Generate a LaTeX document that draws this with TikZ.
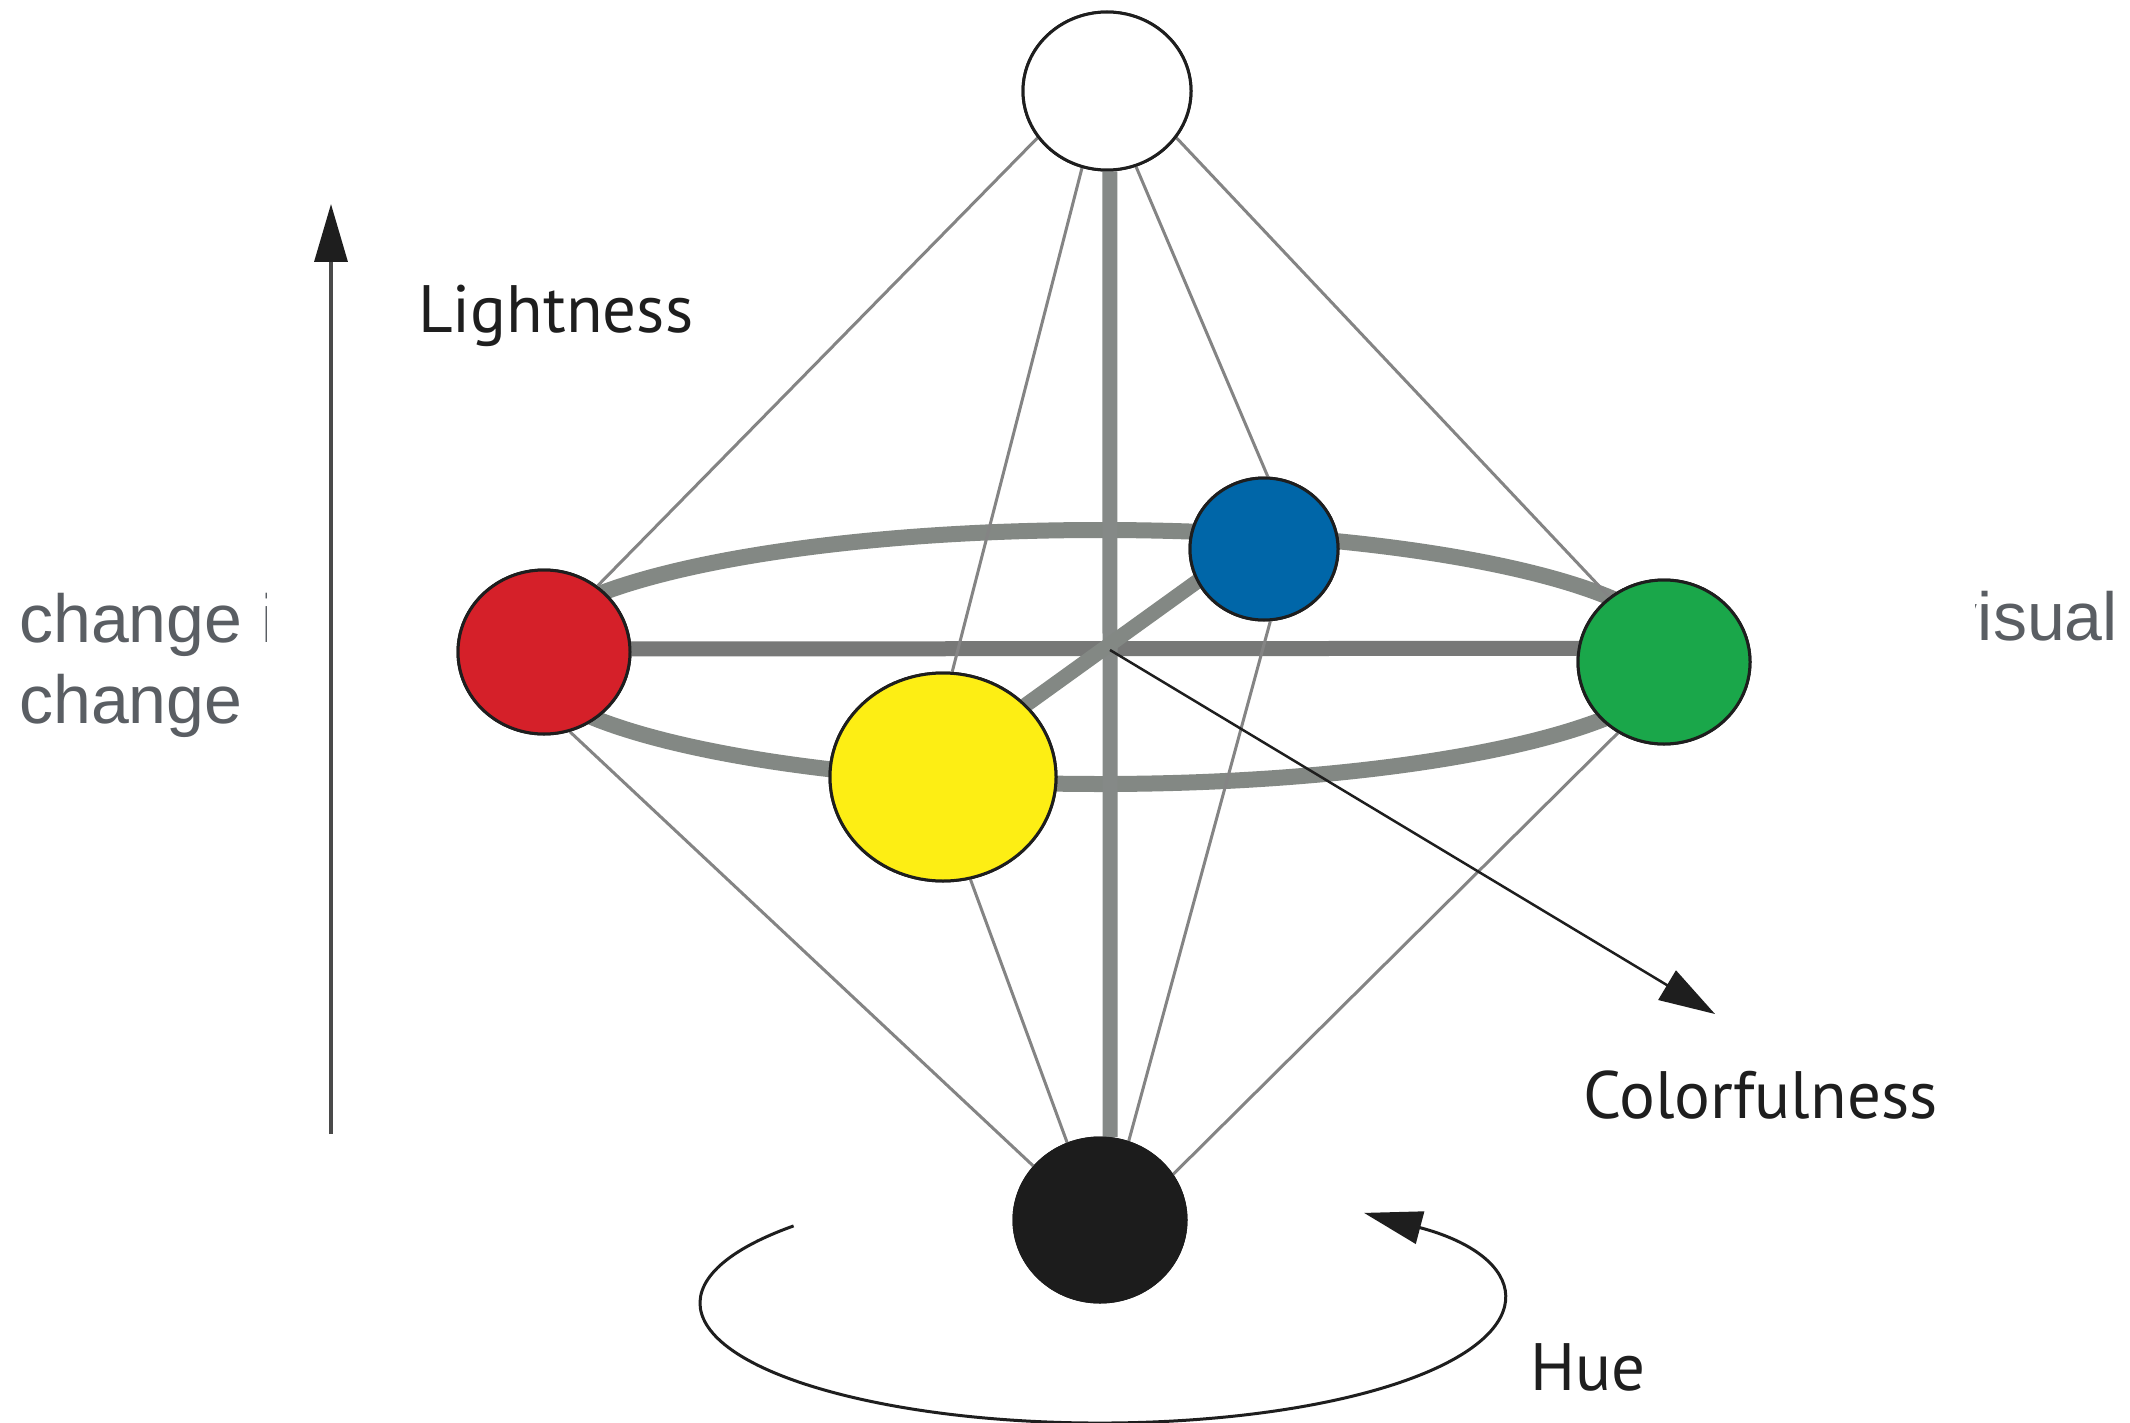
\documentclass[tikz,border=0pt]{standalone}
\usepackage{fontspec}
\setmainfont{PT Sans}
\newfontfamily\slidefont{Liberation Sans}
\usetikzlibrary{shapes.geometric,arrows.meta}

\definecolor{ringgray}{HTML}{838884}
\definecolor{bargray}{HTML}{858987}
\definecolor{hbargray}{HTML}{777877}
\definecolor{spokegray}{HTML}{848484}
\definecolor{inkdark}{HTML}{1E1E1E}
\definecolor{axisgray}{HTML}{4A4A4A}
\definecolor{slidegray}{HTML}{5A5E63}
\definecolor{cred}{HTML}{D52029}
\definecolor{cyellow}{HTML}{FDEE14}
\definecolor{cblue}{HTML}{0066A8}
\definecolor{cgreen}{HTML}{1AA74A}
\definecolor{cblack}{HTML}{1C1C1C}

\tikzset{
  colorball/.style={ellipse, draw=inkdark, line width=3pt, inner sep=0pt},
  bar/.style={line width=15pt, draw=bargray},
  spoke/.style={line width=3pt, draw=spokegray},
  label/.style={inner sep=0pt, text=inkdark, font=\fontsize{67}{80}\selectfont},
  slidetext/.style={inner sep=0pt, text=slidegray, font=\slidefont\fontsize{68}{81}\selectfont},
  bigtip/.style={-{Triangle[length=58pt,width=33pt,color=inkdark,fill=inkdark]}},
}

\begin{document}
\begin{tikzpicture}[x=1pt,y=1pt]
\useasboundingbox (0,0) rectangle (2130,-1423);
\fill[white] (0,0) rectangle (2130,-1423);

% slide text lying behind the figure panel
\node[slidetext, anchor=base west] (left1) at (19,-642) {change i};
\node[slidetext, anchor=base west] (left2) at (19,-723) {change};
\node[slidetext, anchor=base east] (right1) at (2118,-640) {visual};

% white figure panel
\fill[white] (267,0) rectangle (1975,-1423);

% hue ring
\node[ellipse, draw=ringgray, line width=16pt, minimum width=1154pt,
      minimum height=254pt, inner sep=0pt] (ring) at (1100,-657) {};

% colour points (placed first so that the axes can refer to them)
\path
  (1107,-91)  node[colorball, fill=white,   minimum width=168pt, minimum height=158pt] (white) {}
  (544,-652)  node[colorball, fill=cred,    minimum width=172pt, minimum height=164pt] (red) {}
  (943,-777)  node[colorball, fill=cyellow, minimum width=226pt, minimum height=208pt] (yellow) {}
  (1264,-549) node[colorball, fill=cblue,   minimum width=148pt, minimum height=142pt] (blue) {}
  (1664,-662) node[colorball, fill=cgreen,  minimum width=172pt, minimum height=164pt] (green) {}
  (1100,-1220) node[colorball, fill=cblack, draw=cblack, minimum width=172pt, minimum height=164pt] (black) {};

\coordinate (hub) at (1110,-650);

% axes of the solid
\draw[bar, draw=hbargray, shorten <=-8pt, shorten >=-8pt] (red.2) -- (green.171);
\draw[bar] (white.272) -- (black.83);
\draw[bar, draw=ringgray, shorten <=-8pt, shorten >=-8pt] (yellow.41) -- (blue.206);

% spokes to white and black
\draw[spoke] (white.214) -- (red.51);
\draw[spoke] (white.252) -- (yellow.85);
\draw[spoke] (white.291) -- (blue.87);
\draw[spoke] (white.326) -- (green.130);
\draw[spoke] (black.141) -- (red.288);
\draw[spoke] (black.113) -- (yellow.285);
\draw[spoke] (black.70) -- (blue.275);
\draw[spoke] (black.32) -- (green.237);

% balls drawn again above the axes and spokes
\path
  (1107,-91)  node[colorball, fill=white,   minimum width=168pt, minimum height=158pt] {}
  (544,-652)  node[colorball, fill=cred,    minimum width=172pt, minimum height=164pt] {}
  (943,-777)  node[colorball, fill=cyellow, minimum width=226pt, minimum height=208pt] {}
  (1264,-549) node[colorball, fill=cblue,   minimum width=148pt, minimum height=142pt] {}
  (1664,-662) node[colorball, fill=cgreen,  minimum width=172pt, minimum height=164pt] {}
  (1100,-1220) node[colorball, fill=cblack, draw=cblack, minimum width=172pt, minimum height=164pt] {};

% lightness axis
\coordinate (lbot) at (331,-1134);
\coordinate (ltop) at (331,-204);
\draw[bigtip, line width=3.5pt, draw=axisgray] (lbot) -- (ltop);

% colourfulness direction
\coordinate (ctip) at (1715,-1014);
\draw[-{Triangle[length=56pt,width=34pt,fill=inkdark]}, line width=2.5pt, draw=inkdark] (hub) -- (ctip);

% hue rotation
\coordinate (hstart) at (793.6,-1225.9);
\draw[bigtip, line width=3pt, draw=inkdark]
  (hstart) arc[start angle=140, end angle=408.7, x radius=400, y radius=120];

% labels
\node[label, anchor=base west] (lightness) at (418,-332) {Lightness};
\node[label, anchor=base west] (colorfulness) at (1583,-1118) {Colorfulness};
\node[label, anchor=base west] (hue) at (1530,-1390) {Hue};
\end{tikzpicture}
\end{document}
